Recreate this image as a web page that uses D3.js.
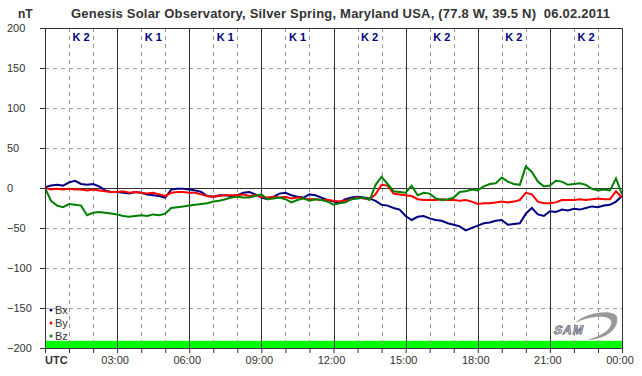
<!DOCTYPE html>
<html>
<head>
<meta charset="utf-8">
<script src="https://cdn.jsdelivr.net/npm/d3@7"></script>
<style>
  body { margin: 0; background: #fff; }
  svg { display: block; font-family: "Liberation Sans", Arial, sans-serif; }
</style>
</head>
<body>
<div id="chart"></div>
<script>
var margin = {top: 28, right: 20, bottom: 28, left: 45},
    width = 642 - margin.left - margin.right,
    height = 376 - margin.top - margin.bottom;

// readings every 15 minutes, 00:00 .. 24:00 UTC (nT)
var bx = [1,3,4,3,7,9,5,4,5,2,-3,-5,-5,-6,-7,-5,-6,-8,-9,-10,-12,-2,-1,-1,-2,-3,-5,-10,-11,-9,
  -9,-10,-9,-6,-5,-8,-12,-14,-11,-7,-6,-9,-11,-12,-8,-9,-12,-15,-17,-18,-14,-12,-11,-12,-13,-16,-21,-22,-25,-27,
  -35,-40,-36,-35,-38,-40,-41,-44,-46,-48,-53,-50,-47,-44,-43,-41,-40,-46,-45,-44,-32,-25,-33,-35,-29,-30,-27,-28,-26,-27,
  -25,-23,-24,-22,-21,-17,-10];
var by = [0,-2,-1,-2,-1,-2,-2,-3,-2,-3,-4,-5,-5,-4,-6,-5,-6,-7,-6,-8,-10,-6,-5,-5,-6,-6,-8,-10,-11,-10,
  -9,-9,-9,-8,-10,-9,-11,-12,-11,-12,-11,-13,-12,-13,-14,-14,-15,-15,-16,-17,-16,-14,-12,-13,-14,-8,4,3,-7,-8,
  -9,-10,-14,-15,-15,-15,-14,-15,-15,-16,-15,-17,-20,-19,-19,-18,-17,-18,-17,-15,-6,-8,-17,-19,-19,-18,-15,-15,-15,-14,
  -15,-14,-13,-14,-14,-4,-12];
var bz = [0,-16,-22,-24,-20,-21,-22,-34,-31,-30,-31,-32,-33,-35,-36,-35,-34,-35,-33,-34,-32,-25,-24,-23,-22,-21,-20,-19,-17,-16,
  -14,-12,-11,-12,-12,-10,-8,-14,-13,-12,-14,-18,-15,-13,-16,-14,-15,-17,-21,-19,-18,-14,-13,-12,-15,4,14,5,-4,-5,
  -6,3,-9,-6,-7,-13,-15,-14,-12,-5,-4,-2,-3,2,5,6,13,8,5,4,27,20,8,2,3,9,8,4,5,6,
  4,-1,-3,-2,-3,12,-8];

var series = [
  {name: "Bx", values: bx, color: "#000080"},
  {name: "By", values: by, color: "#ff0000"},
  {name: "Bz", values: bz, color: "#008000"}
];

var kIndex = ["K 2", "K 1", "K 1", "K 1", "K 2", "K 2", "K 2", "K 2"];
var yTicks = [200, 150, 100, 50, 0, -50, -100, -150, -200];
var hourLabels = ["UTC", "03:00", "06:00", "09:00", "12:00", "15:00", "18:00", "21:00", "00:00"];
var title = "Genesis Solar Observatory, Silver Spring, Maryland USA, (77.8 W, 39.5 N)  06.02.2011";

var x = d3.scaleLinear().domain([0, 24]).range([0, width]);
var y = d3.scaleLinear().domain([-200, 200]).range([height, 0]);

var svg = d3.select("#chart").append("svg")
    .attr("width", 642)
    .attr("height", 376);

svg.append("text")
    .attr("x", 18).attr("y", 18)
    .style("font-size", "12px").style("font-weight", "bold").style("fill", "#333")
    .text("nT");

svg.append("text")
    .attr("x", 71).attr("y", 18)
    .attr("textLength", 539)
    .style("font-size", "13px").style("font-weight", "bold").style("fill", "#333")
    .style("white-space", "pre")
    .text(title);

var g = svg.append("g")
    .attr("transform", "translate(" + margin.left + "," + margin.top + ")");

// green band along the bottom
g.append("rect")
    .attr("x", 0).attr("width", width)
    .attr("y", y(-191)).attr("height", y(-200) - y(-191))
    .style("fill", "#00ff00");

// horizontal grid
g.selectAll(".hgrid")
  .data(yTicks.filter(function(d) { return d != 0 && d != 200 && d != -200; }))
  .enter().append("line")
    .attr("x1", 0).attr("x2", width)
    .attr("y1", function(d) { return y(d) + 0.5; })
    .attr("y2", function(d) { return y(d) + 0.5; })
    .style("stroke", "#999").style("stroke-dasharray", "4,4");

// vertical grid: dashed every hour, solid every 3 hours
var hours = d3.range(1, 24);
g.selectAll(".vgrid")
  .data(hours)
  .enter().append("line")
    .attr("x1", function(d) { return Math.round(x(d)) + 0.5; })
    .attr("x2", function(d) { return Math.round(x(d)) + 0.5; })
    .attr("y1", 0).attr("y2", height)
    .style("stroke", function(d) { return d % 3 == 0 ? "#333" : "#999"; })
    .style("stroke-dasharray", function(d) { return d % 3 == 0 ? null : "4,4"; });

g.append("line")
    .attr("x1", 0).attr("x2", width)
    .attr("y1", y(0) + 0.5).attr("y2", y(0) + 0.5)
    .style("stroke", "#333");

// frame
g.append("rect")
    .attr("x", 0.5).attr("y", 0.5)
    .attr("width", width).attr("height", height)
    .style("fill", "none").style("stroke", "#333");

// K index labels
g.selectAll(".kidx")
  .data(kIndex)
  .enter().append("text")
    .attr("x", function(d, i) { return x(i * 3 + 1.5); })
    .attr("y", 13)
    .attr("text-anchor", "middle")
    .style("font-size", "11px").style("font-weight", "bold").style("fill", "#000080")
    .text(function(d) { return d; });

// data lines
g.append("clipPath").attr("id", "clip")
  .append("rect").attr("width", width).attr("height", height);

var line = d3.line()
    .x(function(d, i) { return x(i / 4); })
    .y(function(d) { return y(d); });

g.selectAll(".series")
  .data(series)
  .enter().append("path")
    .attr("clip-path", "url(#clip)")
    .attr("d", function(d) { return line(d.values); })
    .style("fill", "none")
    .style("stroke", function(d) { return d.color; })
    .style("stroke-width", 2);

// y axis, labels flush left
var yAxis = d3.axisLeft(y).tickValues(yTicks).tickSize(5);
g.append("g")
    .call(yAxis)
    .call(function(a) {
      a.select(".domain").style("stroke", "#333");
      a.selectAll(".tick line").style("stroke", "#333");
      a.selectAll("text")
        .attr("x", -38).attr("text-anchor", "start")
        .style("font-size", "11px").style("fill", "#333")
        .style("font-family", "'Liberation Sans', Arial, sans-serif");
    });

// x axis
var xAxis = d3.axisBottom(x).tickValues(d3.range(0, 25)).tickSize(5).tickFormat("");
g.append("g")
    .attr("transform", "translate(0," + height + ")")
    .call(xAxis)
    .call(function(a) {
      a.select(".domain").style("stroke", "#333");
      a.selectAll(".tick line").style("stroke", "#333");
    });

g.selectAll(".hlabel")
  .data(hourLabels)
  .enter().append("text")
    .attr("x", function(d, i) { return i == 0 ? x(0) : x(i * 3) - 2; })
    .attr("y", height + 16)
    .attr("text-anchor", function(d, i) { return i == 0 ? "start" : "middle"; })
    .style("font-size", "11px")
    .style("font-weight", function(d, i) { return i == 0 ? "bold" : "normal"; })
    .style("fill", "#333")
    .text(function(d) { return d; });

// legend
var legend = g.selectAll(".legend")
  .data(series)
  .enter().append("g")
    .attr("transform", function(d, i) { return "translate(6," + (282 + i * 13) + ")"; });
legend.append("circle").attr("r", 1.5).style("fill", function(d) { return d.color; });
legend.append("text")
    .attr("x", 4).attr("y", 4)
    .style("font-size", "11px").style("fill", "#333")
    .text(function(d) { return d.name; });

// SAM logo
var logo = g.append("g").attr("transform", "translate(512,285)");
logo.append("path")
    .attr("d", "M18,10 C30,-2 58,-4 60,4 C62,14 52,26 30,27 C48,22 56,14 54,8 C52,2 34,2 18,10 Z")
    .style("fill", "#999");
logo.append("text")
    .attr("x", 2).attr("y", 21)
    .attr("transform", "skewX(-15)")
    .style("font-size", "12px").style("font-weight", "bold")
    .style("fill", "#e8e8ee").style("stroke", "#667").style("stroke-width", 0.8)
    .style("letter-spacing", "1px")
    .text("SAM");
</script>
</body>
</html>
